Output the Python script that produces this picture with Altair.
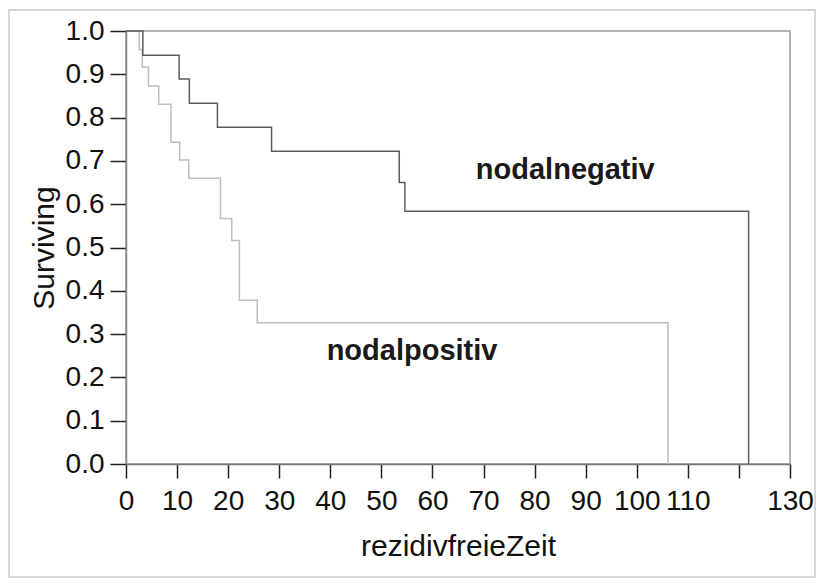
import altair as alt
import pandas as pd

# Kaplan-Meier step curves
neg_time = [0, 3.3, 10.4, 12.4, 17.9, 28.5, 53.5, 54.6, 121.9]
neg_surv = [1.0, 0.944, 0.889, 0.833, 0.778, 0.722, 0.650, 0.584, 0.0]
pos_time = [0, 2.6, 3.2, 4.4, 6.4, 8.8, 10.5, 12.3, 18.5, 20.7, 22.2, 25.7, 106.1]
pos_surv = [1.0, 0.957, 0.917, 0.873, 0.831, 0.743, 0.702, 0.660, 0.567, 0.516, 0.378, 0.326, 0.0]

group_names = ["nodalnegativ", "nodalpositiv"]
label_time = [86, 56]
label_surv = [0.68, 0.26]

x_ticks = list(range(0, 131, 10))
y_ticks = [round(i / 10, 1) for i in range(0, 11)]

FONT = "Liberation Sans"

neg_df = pd.DataFrame({"t": neg_time, "s": neg_surv})
pos_df = pd.DataFrame({"t": pos_time, "s": pos_surv})
lab_df = pd.DataFrame({"name": group_names, "t": label_time, "s": label_surv})

x_scale = alt.Scale(domain=[0, 130], nice=False, zero=False)
y_scale = alt.Scale(domain=[0, 1], nice=False)

x_axis = alt.Axis(
    values=x_ticks, labelExpr="datum.value == 120 ? '' : datum.label",
    tickSize=14, tickColor="#222", domainColor="#777", domainWidth=1.5, tickWidth=1.5,
    labelFont=FONT, labelFontSize=28, labelColor="#111", labelPadding=9,
    labelOverlap=False, labelFlush=False, grid=False,
    title="rezidivfreieZeit", titleFont=FONT, titleFontSize=30,
    titleFontWeight="normal", titleColor="#111", titlePadding=16,
)
y_axis = alt.Axis(
    values=y_ticks, format=".1f",
    tickSize=16, tickColor="#222", domainColor="#888", domainWidth=1.5, tickWidth=1.5,
    labelFont=FONT, labelFontSize=28, labelColor="#111", labelPadding=6,
    labelOverlap=False, labelFlush=False, grid=False,
    title="Surviving", titleFont=FONT, titleFontSize=30,
    titleFontWeight="normal", titleColor="#111", titlePadding=6,
)

pos_line = alt.Chart(pos_df).mark_line(
    interpolate="step-after", color="#bdbdbd", strokeWidth=1.5
).encode(
    x=alt.X("t:Q", scale=x_scale, axis=x_axis),
    y=alt.Y("s:Q", scale=y_scale, axis=y_axis),
)
neg_line = alt.Chart(neg_df).mark_line(
    interpolate="step-after", color="#5c5c5c", strokeWidth=1.5
).encode(
    x=alt.X("t:Q", scale=x_scale),
    y=alt.Y("s:Q", scale=y_scale),
)
labels = alt.Chart(lab_df).mark_text(
    font=FONT, fontSize=29, fontWeight="bold", color="#1a1a1a"
).encode(
    x=alt.X("t:Q", scale=x_scale),
    y=alt.Y("s:Q", scale=y_scale),
    text="name:N",
)
frame = alt.Chart(pd.DataFrame({"k": [0]})).mark_rect(
    fill=None, stroke="#d6d6d6", strokeWidth=2, clip=False
).encode(
    x=alt.value(-117), x2=alt.value(689), y=alt.value(-21), y2=alt.value(546)
)

chart = alt.layer(frame, pos_line, neg_line, labels).properties(
    width=664, height=433,
    autosize=alt.AutoSizeParams(type="none"),
    padding={"left": 126, "top": 31, "right": 27, "bottom": 119},
    background="white",
).configure_view(stroke="#999999", strokeWidth=1.5)

chart.save("out.html", embed_options={"renderer": "svg", "actions": False})
